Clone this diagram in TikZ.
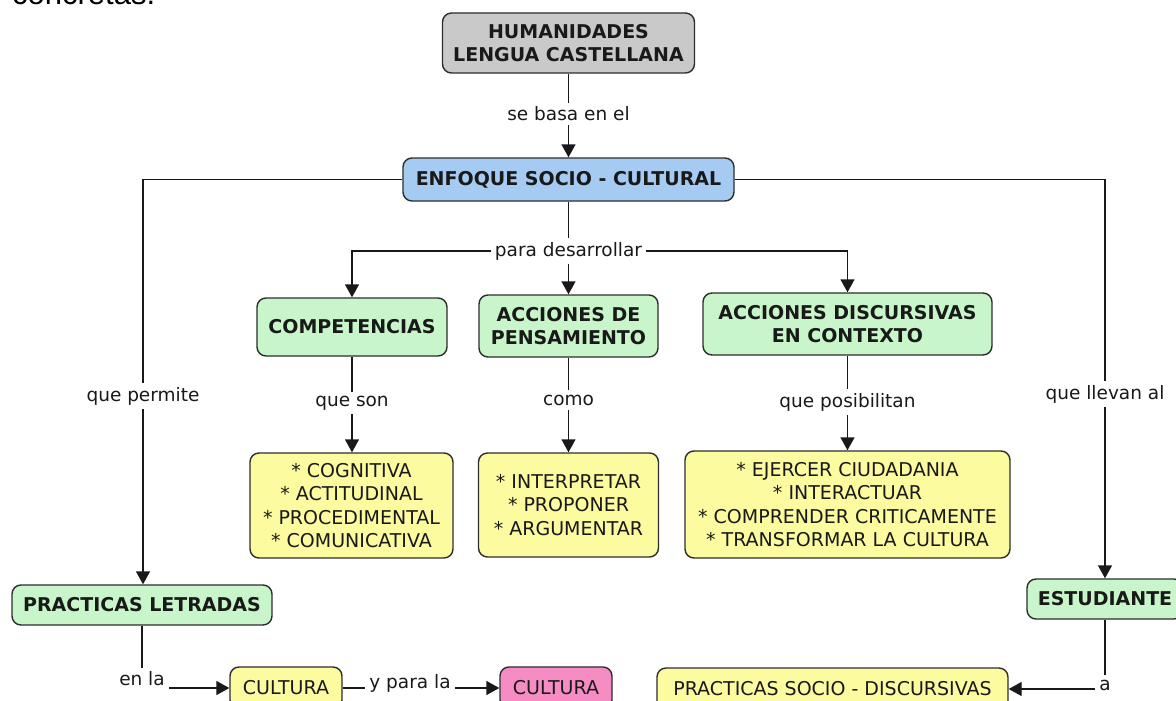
\documentclass[tikz,border=0pt]{standalone}
\usepackage{fontspec}
\setmainfont{DejaVu Sans}
\newfontfamily\arialfont{Liberation Sans}
\usetikzlibrary{arrows.meta}
\definecolor{cgray}{RGB}{201,201,201}
\definecolor{cblue}{RGB}{166,203,243}
\definecolor{cgreen}{RGB}{200,246,202}
\definecolor{cyellow}{RGB}{252,251,160}
\definecolor{cpink}{RGB}{245,140,196}
\definecolor{cborder}{RGB}{45,45,45}
\definecolor{ctext}{RGB}{25,25,25}
\tikzset{
  cbox/.style={draw=cborder, line width=1.4pt, rounded corners=9pt, align=center, inner sep=0pt, text=ctext},
  titlebox/.style={cbox, font=\fontsize{19}{23.5}\selectfont\bfseries},
  listbox/.style={cbox, fill=cyellow, font=\fontsize{19}{23.2}\selectfont},
  lbl/.style={font=\fontsize{18.5}{22}\selectfont, text=ctext, inner sep=4pt},
  conn/.style={line width=1.4pt, draw=ctext},
  arr/.style={conn, -{Triangle[length=13pt,width=14pt]}}
}
\begin{document}
\begin{tikzpicture}[x=1pt,y=-1pt]
\useasboundingbox[fill=white] (0,0) rectangle (1176,701);
% text of the page above, cut off by the top edge as in the reference
\node[anchor=base west, inner sep=0pt, font=\arialfont\fontsize{31}{31}\selectfont] (cc) at (12,5) {concretas.};
% concepts
\node[titlebox, fill=cgray, minimum width=252pt, minimum height=60pt] (hum) at (568.5,43) {HUMANIDADES\\LENGUA CASTELLANA};
\node[titlebox, fill=cblue, minimum width=331pt, minimum height=43pt] (enf) at (568.5,179.5) {ENFOQUE SOCIO - CULTURAL};
\node[titlebox, fill=cgreen, minimum width=190pt, minimum height=58pt] (comp) at (352,327) {COMPETENCIAS};
\node[titlebox, fill=cgreen, minimum width=179pt, minimum height=62pt] (acp) at (568.5,326) {ACCIONES DE\\PENSAMIENTO};
\node[titlebox, fill=cgreen, minimum width=289pt, minimum height=62pt] (acd) at (847.5,324) {ACCIONES DISCURSIVAS\\EN CONTEXTO};
\node[listbox, minimum width=203pt, minimum height=105pt] (l1) at (351.5,505.5) {* COGNITIVA\\* ACTITUDINAL\\* PROCEDIMENTAL\\* COMUNICATIVA};
\node[listbox, minimum width=180pt, minimum height=104pt] (l2) at (568.5,505) {* INTERPRETAR\\* PROPONER\\* ARGUMENTAR};
\node[listbox, minimum width=325pt, minimum height=107pt] (l3) at (847.5,504.5) {* EJERCER CIUDADANIA\\* INTERACTUAR\\* COMPRENDER CRITICAMENTE\\* TRANSFORMAR LA CULTURA};
\node[titlebox, fill=cgreen, minimum width=260pt, minimum height=40pt] (pl) at (142,605) {PRACTICAS LETRADAS};
\node[titlebox, fill=cgreen, minimum width=156pt, minimum height=40pt] (est) at (1105,599) {ESTUDIANTE};
\node[listbox, minimum width=112pt, minimum height=42pt] (cu1) at (286,688) {CULTURA};
\node[listbox, fill=cpink, minimum width=112pt, minimum height=42pt] (cu2) at (556,688) {CULTURA};
\node[listbox, minimum width=351pt, minimum height=42pt] (psd) at (832.5,689) {PRACTICAS SOCIO - DISCURSIVAS};
% link labels
\node[lbl] (sb) at (568.5,114) {se basa en el};
\node[lbl] (pd) at (568.5,251) {para desarrollar};
\node[lbl] (qp) at (143,396) {que permite};
\node[lbl] (ql) at (1105,394) {que llevan al};
\node[lbl] (qs) at (352,403) {que son};
\node[lbl] (co) at (568.5,400) {como};
\node[lbl] (qpo) at (847.5,402) {que posibilitan};
\node[lbl] (enla) at (142,679) {en la};
\node[lbl] (ypl) at (410,683) {y para la};
\node[lbl] (a) at (1105,685) {a};
% connectors
\draw[conn] (hum.south) -- (sb.north);
\draw[arr] (sb.south) -- (enf.north);
\draw[conn] (enf.south) -- (pd.north);
\draw[arr] (pd.west) -| (comp.north);
\draw[arr] (pd.south) -- (acp.north);
\draw[arr] (pd.east) -| (acd.north);
\draw[conn] (enf.west) -| (qp.north);
\draw[arr] (qp.south) -- (qp.south |- pl.north);
\draw[conn] (enf.east) -| (ql.north);
\draw[arr] (ql.south) -- (ql.south |- est.north);
\draw[conn] (comp.south) -- (qs.north);
\draw[arr] (qs.south) -- (qs.south |- l1.north);
\draw[conn] (acp.south) -- (co.north);
\draw[arr] (co.south) -- (co.south |- l2.north);
\draw[conn] (acd.south) -- (qpo.north);
\draw[arr] (qpo.south) -- (qpo.south |- l3.north);
\draw[conn] (enla.north |- pl.south) -- (enla.north);
\draw[arr] (enla.east |- cu1.west) -- (cu1.west);
\draw[conn] (cu1.east) -- (ypl.west |- cu1.east);
\draw[arr] (ypl.east |- cu2.west) -- (cu2.west);
\draw[conn] (est.south) -- (a.north);
\draw[arr] (a.west |- psd.east) -- (psd.east);
\end{tikzpicture}
\end{document}
